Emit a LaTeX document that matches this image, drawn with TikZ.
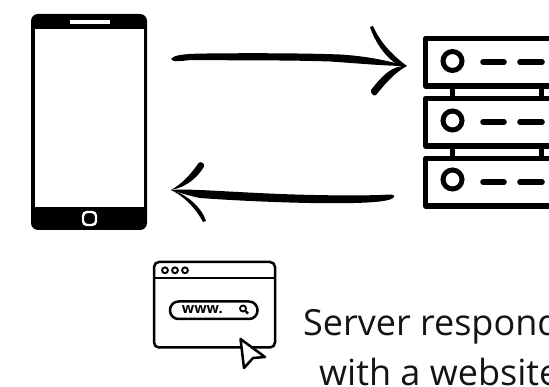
\documentclass[tikz,border=0pt]{standalone}
\usepackage{fontspec}
\setmainfont{Open Sans}
\tikzset{
  x=1pt,y=-1pt,
  ink/.style={fill=black,draw=none},
  rack/.style={draw=black,line width=5.4pt,line join=round,fill=white},
  dashbar/.style={draw=black,line width=5.6pt,line cap=round},
  led/.style={draw=black,line width=5pt,fill=white},
  thin/.style={draw=black,line width=2.5pt},
  label/.style={anchor=base west,inner sep=0pt,font=\fontsize{36}{40}\selectfont,text=black!92}
}
\begin{document}
\begin{tikzpicture}
\useasboundingbox (0,0) rectangle (549,387);
\clip (0,0) rectangle (549,387);
\fill[white] (0,0) rectangle (549,387);
% phone
\fill[ink,rounded corners=7pt] (31,14) rectangle (147,230);
\fill[white] (35,29.5) rectangle (144,207);
\fill[white] (69.5,20) rectangle (109.5,24);
\draw[white,line width=2.4pt,rounded corners=4pt] (83,212) rectangle (96,225);
% server
\foreach \y in {88,148}{
  \fill[ink] (449.5,\y) rectangle (455,\y+9);
  \fill[ink] (538.5,\y) rectangle (544,\y+9);
}
\foreach \t/\c/\d in {38.5/61/62,98.5/120.5/122,158.5/179.5/182}{
  \draw[rack] (425.5,\t) rectangle (570,\t+47.5);
  \draw[led] (452.5,\c) circle (9.5pt);
  \draw[dashbar] (483,\d) -- (504,\d);
  \draw[dashbar] (520,\d) -- (542,\d);
}
% top arrow
\coordinate (a1) at (171,59);
\coordinate (a2) at (407,66);
\fill[ink] (a1) .. controls (173,55.5) and (182,54) .. (200,53.6)
  .. controls (240,53) and (300,53) .. (340,54.5)
  .. controls (365,56) and (385,60) .. (a2)
  .. controls (385,66) and (360,63.5) .. (330,61.5)
  .. controls (290,60) and (230,60.5) .. (190,60)
  .. controls (182,61) and (172,62.5) .. cycle;
\fill[ink] (370,27) .. controls (375,42) and (385,57) .. (398,65)
  -- (a2) .. controls (392,55) and (380,42) .. (373,26) -- cycle;
\fill[ink] (a2) .. controls (392,65) and (382,76) .. (371,90)
  .. controls (370,93) and (374,97) .. (376,95)
  .. controls (385,84) and (394,73) .. (a2) -- cycle;
% bottom arrow
\coordinate (b1) at (394,197);
\coordinate (b2) at (171,190);
\fill[ink] (b1) .. controls (392,201) and (375,203) .. (340,203.2)
  .. controls (300,203.5) and (240,201) .. (200,198)
  .. controls (190,196) and (180,193) .. (b2)
  .. controls (190,188.5) and (220,191.5) .. (280,194)
  .. controls (320,195.5) and (365,196) .. (388,194.6)
  .. controls (392,194.3) and (395,195) .. cycle;
\fill[ink] (b2) .. controls (182,184) and (192,173) .. (198.5,163)
  .. controls (200,161) and (205,163) .. (204,166.5)
  .. controls (198,177) and (187,187) .. (b2) -- cycle;
\fill[ink] (b2) .. controls (184,196) and (197,210) .. (203,222)
  -- (206,221) .. controls (202,208) and (187,194) .. (b2) -- cycle;
% browser
\draw[thin,rounded corners=5pt] (154,262) rectangle (275,347.5);
\draw[thin] (154,278) -- (275,278);
\foreach \x in {165,175,185}{\draw[draw=black,line width=1.9pt] (\x,270.3) circle (2.9pt);}
\draw[thin,rounded corners=8.5pt] (170,301.5) rectangle (257.5,319);
\node[inner sep=0pt,font=\fontsize{14.5}{15}\selectfont\bfseries] (www) at (202.3,309.5) {www.};
\draw[black,line width=1.8pt] (243,308.5) circle (3pt);
\draw[black,line width=2.2pt] (245.5,311) -- (248,313.5);
\draw[thin,fill=white,line join=round] (240.5,339) -- (265,357) -- (253,358) -- (244,368) -- cycle;
% text
\node[label] (t1) at (303,336) {Server respond};
\node[label] (t2) at (319,385) {with a website};
\end{tikzpicture}
\end{document}
